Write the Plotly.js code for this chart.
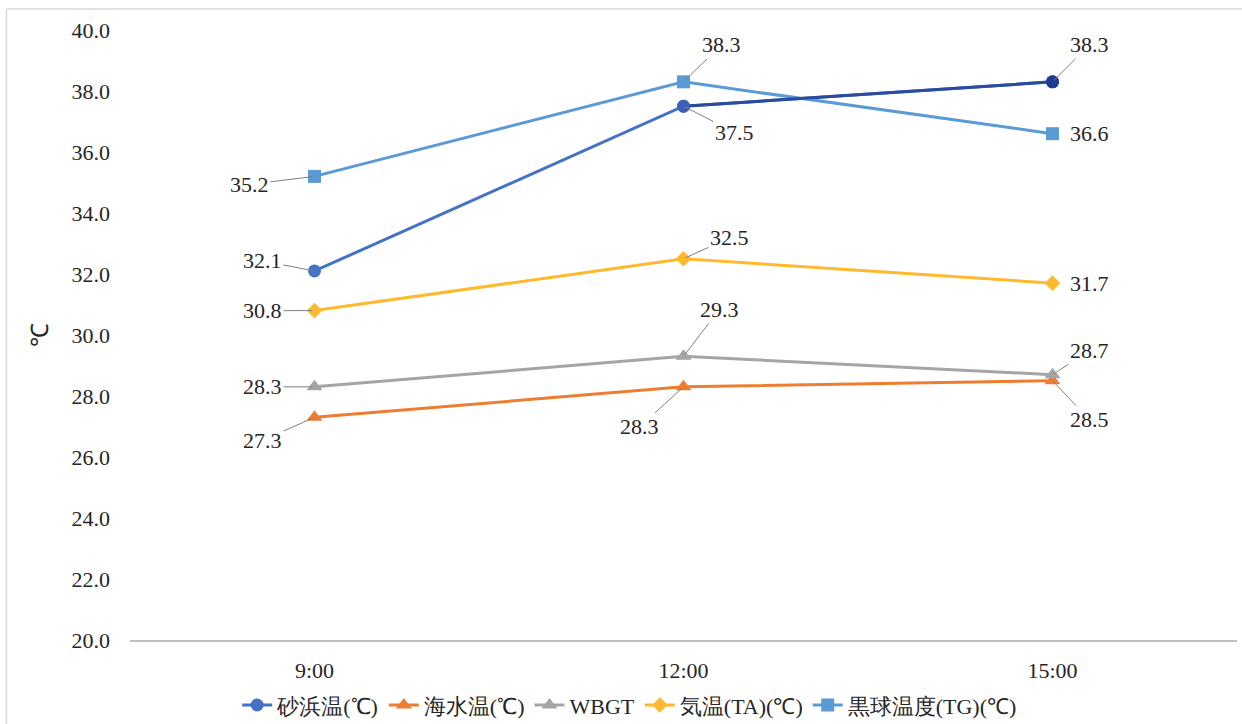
<!DOCTYPE html>
<html>
<head>
<meta charset="utf-8">
<script src="https://cdn.plot.ly/plotly-3.0.1.min.js"></script>
<style>
  html, body { margin: 0; padding: 0; background: #fff; }
  #chart { width: 1242px; height: 724px; }
</style>
</head>
<body>
<div id="chart"></div>
<script>
// Time of day (categories)
const times = ['9:00', '12:00', '15:00'];

// Series names
const seriesNames = ['砂浜温(℃)', '海水温(℃)', 'WBGT', '気温(TA)(℃)', '黒球温度(TG)(℃)'];

// Measured temperatures, °C
const sandTemp  = [32.1, 37.5, 38.3];
const seaTemp   = [27.3, 28.3, 28.5];
const wbgt      = [28.3, 29.3, 28.7];
const airTemp   = [30.8, 32.5, 31.7];
const globeTemp = [35.2, 38.3, 36.6];

// Y axis ticks
const yTicks = [20, 22, 24, 26, 28, 30, 32, 34, 36, 38, 40];

// Styling per series
const colors  = ['#4472C4', '#ED7D31', '#A5A5A5', '#FFB92E', '#5B9BD5'];
const symbols = ['circle', 'triangle-up', 'triangle-up', 'diamond', 'square'];
const sizes   = [13, 14, 14, 12, 13];

// Label offsets (px) from each point, and whether a leader line is drawn
const labelOffsets = [
  [[-52, -10, true], [51, 26, true], [37, -37, true]],
  [[-52, 23, true], [-44, 40, true], [37, 39, true]],
  [[-52, 0, true], [36, -47, true], [37, -24, true]],
  [[-52, 0, true], [46, -21, true], [37, 0, false]],
  [[-65, 8, true], [38, -37, true], [37, 0, false]]
];

const FONT = 'Liberation Serif';
const allSeries = [sandTemp, seaTemp, wbgt, airTemp, globeTemp];

const traces = allSeries.map((vals, i) => ({
  type: 'scatter',
  mode: 'lines+markers',
  name: seriesNames[i],
  x: times,
  y: vals,
  line: { color: colors[i], width: 3 },
  marker: { color: colors[i], symbol: symbols[i], size: sizes[i] },
  cliponaxis: false
}));

// Afternoon segment of the sand series is drawn in a deeper blue
traces.push({
  type: 'scatter',
  mode: 'lines+markers',
  x: times.slice(1),
  y: sandTemp.slice(1),
  showlegend: false,
  line: { color: '#2C4A9E', width: 3 },
  marker: { color: ['#3B62B5', '#1F3A93'], symbol: 'circle', size: 13 },
  cliponaxis: false
});

const annotations = [];
allSeries.forEach((vals, i) => {
  vals.forEach((v, j) => {
    const [ax, ay, lead] = labelOffsets[i][j];
    annotations.push({
      x: times[j], y: v, xref: 'x', yref: 'y',
      text: v.toFixed(1),
      showarrow: true, arrowhead: 0, arrowwidth: 1,
      arrowcolor: lead ? '#7F7F7F' : 'rgba(0,0,0,0)',
      ax: ax, ay: ay, standoff: 2,
      font: { family: FONT, size: 22, color: '#262626' }
    });
  });
});

const layout = {
  width: 1242, height: 724,
  font: { family: FONT },
  margin: { l: 130, r: 5, t: 30, b: 84 },
  paper_bgcolor: '#fff', plot_bgcolor: '#fff',
  showlegend: true,
  legend: {
    orientation: 'h', xref: 'container', yref: 'container',
    x: 0.507, xanchor: 'center', y: 0.026, yanchor: 'middle',
    font: { family: FONT, size: 22, color: '#262626' },
    itemwidth: 30, tracegroupgap: 0
  },
  xaxis: {
    type: 'category', range: [-0.5, 2.5],
    showgrid: false, zeroline: false,
    showline: true, linecolor: '#BFBFBF', linewidth: 1.5,
    ticks: '', ticklabelstandoff: 10,
    tickfont: { family: FONT, size: 22, color: '#262626' }
  },
  yaxis: {
    range: [20, 40], tickvals: yTicks,
    ticktext: yTicks.map(t => t.toFixed(1)),
    showgrid: false, zeroline: false, showline: false, ticks: '',
    ticklabelstandoff: 19,
    tickfont: { family: FONT, size: 22, color: '#262626' },
    title: { text: '℃', standoff: 16, font: { family: FONT, size: 24, color: '#262626' } }
  },
  shapes: [
    { type: 'line', xref: 'paper', yref: 'paper', x0: -0.1116, x1: 1.01, y0: 1.0344, y1: 1.0344,
      line: { color: '#D9D9D9', width: 1.5 } },
    { type: 'line', xref: 'paper', yref: 'paper', x0: -0.1116, x1: -0.1116, y0: 1.0344, y1: -0.2,
      line: { color: '#D9D9D9', width: 1.5 } }
  ],
  annotations: annotations
};

Plotly.newPlot('chart', traces, layout, { displayModeBar: false, staticPlot: true });
</script>
</body>
</html>
